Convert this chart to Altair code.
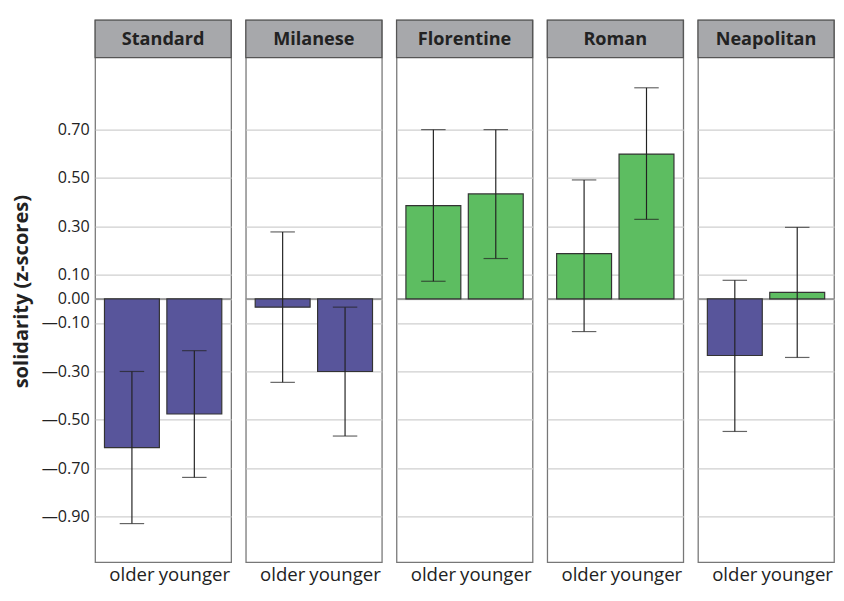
import altair as alt
import pandas as pd

dialects = ["Standard", "Milanese", "Florentine", "Roman", "Neapolitan"]
groups = ["older", "younger"]
older_mean = [-0.615, -0.034, 0.386, 0.187, -0.234]
older_lo = [-0.929, -0.345, 0.073, -0.135, -0.548]
older_hi = [-0.300, 0.277, 0.700, 0.492, 0.077]
younger_mean = [-0.476, -0.300, 0.434, 0.599, 0.027]
younger_lo = [-0.738, -0.567, 0.167, 0.329, -0.242]
younger_hi = [-0.214, -0.034, 0.700, 0.873, 0.296]
tick_values = [0.70, 0.50, 0.30, 0.10, 0.00, -0.10, -0.30, -0.50, -0.70, -0.90]

rows = []
for i, d in enumerate(dialects):
    for g, m, lo, hi in [("older", older_mean[i], older_lo[i], older_hi[i]),
                         ("younger", younger_mean[i], younger_lo[i], younger_hi[i])]:
        rows.append({"dialect": d, "group": g, "mean": m, "lo": lo, "hi": hi,
                     "sign": "neg" if m < 0 else "pos"})
df = pd.DataFrame(rows)

Y_MIN, Y_MAX, HDR = -1.089, 1.153, 0.998
FONT = "Open Sans"
W, H = 139, 554

yscale = alt.Scale(domain=[Y_MIN, Y_MAX], nice=False, zero=False, padding=0)
xenc = alt.X("group:N", sort=groups,
             scale=alt.Scale(paddingInner=0.12, paddingOuter=0.15),
             axis=alt.Axis(title=None, labelAngle=0, ticks=False, domain=False,
                           labelFontSize=19, labelPadding=3, labelColor="#222",
                           labelFont=FONT))
yenc = alt.Y("mean:Q", scale=yscale,
             axis=alt.Axis(values=tick_values,
                           labelExpr="replace(replace(format(datum.value, '.2f'), '\u2212', '-'), '-', '\u2014')",
                           grid=True,
                           gridColor="#cfcfcf", gridWidth=1.3, domain=False,
                           ticks=False, labelFontSize=16.5, labelColor="#222",
                           labelFont=FONT, labelPadding=4,
                           title="solidarity (z-scores)", titleFontSize=20.5,
                           titleFontWeight="bold", titleColor="#222",
                           titleFont=FONT, titlePadding=10))

base = alt.Chart(df)

header_rect = base.transform_filter("datum.group == 'older'").mark_rect(
    fill="#a7a8ab", stroke="#555", strokeWidth=1.3
).encode(
    x=alt.value(0), x2=alt.value(W),
    y=alt.Y(datum=HDR, scale=yscale), y2=alt.Y2(datum=Y_MAX)
)

header_text = base.transform_filter("datum.group == 'older'").mark_text(
    fontSize=18.5, fontWeight="bold", font=FONT, color="#222", baseline="middle"
).encode(
    x=alt.value(W / 2),
    y=alt.Y(datum=(HDR + Y_MAX) / 2, scale=yscale),
    text="dialect:N"
)

zero_rule = base.transform_filter("datum.group == 'older'").mark_rule(
    color="#8a8a8a", strokeWidth=1.5
).encode(x=alt.value(0), x2=alt.value(W), y=alt.Y(datum=0, scale=yscale))

bars = base.mark_bar(stroke="#333", strokeWidth=1.2).encode(
    x=xenc, y=yenc, y2=alt.Y2(datum=0),
    color=alt.Color("sign:N", scale=alt.Scale(domain=["neg", "pos"],
                                               range=["#58559b", "#5dbd61"]),
                    legend=None)
)

err = base.mark_rule(color="#222", strokeWidth=1.2).encode(
    x=alt.X("group:N", sort=groups),
    y=alt.Y("lo:Q", scale=yscale), y2="hi:Q"
)
cap_lo = base.mark_tick(orient="horizontal", size=25, thickness=1.2, color="#222").encode(
    x=alt.X("group:N", sort=groups), y=alt.Y("lo:Q", scale=yscale)
)
cap_hi = base.mark_tick(orient="horizontal", size=25, thickness=1.2, color="#222").encode(
    x=alt.X("group:N", sort=groups), y=alt.Y("hi:Q", scale=yscale)
)

layered = alt.layer(header_rect, zero_rule, bars, err, cap_lo, cap_hi, header_text).properties(
    width=W, height=H
)

chart = layered.facet(
    column=alt.Column("dialect:N", sort=dialects, header=None),
    spacing=11
).configure_view(stroke="#777", strokeWidth=1.3).properties(
    padding={"left": 3, "top": 4, "right": 0, "bottom": 0}
)

chart.save("out.html", embed_options={"renderer": "svg", "actions": False})
